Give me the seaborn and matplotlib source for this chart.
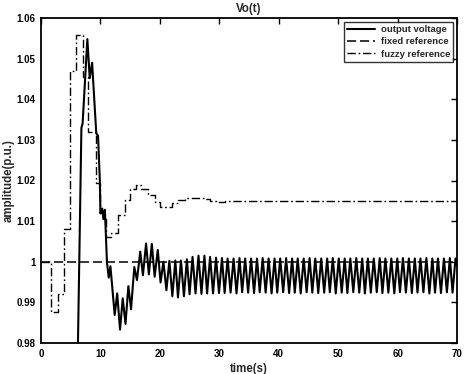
import numpy as np
import pandas as pd
import matplotlib
matplotlib.use("Agg")
import matplotlib.pyplot as plt
import seaborn as sns

# output voltage, transient part (t, value)
vo_t = [0, 6.0, 6.8, 7.0, 7.8, 8.2, 8.6, 9.3, 9.6, 9.9, 10.0, 10.3, 10.5, 10.75,
        11.1, 11.4, 11.68, 12.4, 12.82, 13.3, 13.75, 14.22, 14.7, 15.15, 15.7, 16.15,
        16.7, 17.15, 17.68, 18.15, 18.65, 19.12, 19.65, 20.12]
vo_v = [0.90, 0.96, 1.033, 1.034, 1.0548, 1.0452, 1.049, 1.0316, 1.031, 1.020,
        1.0119, 1.0131, 1.0105, 1.0128, 0.9998, 0.9961, 0.9989, 0.9869, 0.9922, 0.9833,
        0.9910, 0.9847, 0.9940, 0.9883, 0.9987, 0.9955, 1.0025, 0.9967, 1.0045, 0.9969,
        1.0044, 0.9963, 1.0029, 0.9949]

# output voltage, steady oscillation: peaks and troughs
peak_t = [20.6, 21.6, 22.6, 23.55, 24.55, 25.5, 26.5, 27.5, 28.45, 29.45, 30.45, 31.4,
          32.4, 33.4, 34.35, 35.35, 36.35, 37.3, 38.3, 39.3, 40.25, 41.25, 42.25, 43.2,
          44.2, 45.2, 46.15, 47.15, 48.15, 49.1, 50.1, 51.1, 52.05, 53.05, 54.05, 55.0,
          56.0, 57.0, 57.95, 58.95, 59.95, 60.9, 61.9, 62.9, 63.85, 64.85, 65.85, 66.8,
          67.8, 68.8, 69.75]
peak_v = [1.0000, 1.0002, 1.0003, 1.0003, 1.0006, 1.0012, 1.0015, 1.0015, 1.0012, 1.0010,
          1.0009, 1.0008, 1.0008, 1.0009, 1.0008, 1.0008, 1.0008, 1.0009, 1.0008, 1.0008,
          1.0008, 1.0009, 1.0008, 1.0008, 1.0008, 1.0009, 1.0008, 1.0008, 1.0008, 1.0009,
          1.0008, 1.0008, 1.0008, 1.0009, 1.0008, 1.0008, 1.0008, 1.0009, 1.0008, 1.0008,
          1.0008, 1.0009, 1.0008, 1.0008, 1.0008, 1.0009, 1.0008, 1.0008, 1.0008, 1.0009,
          1.0008]
trough_t = [21.1, 22.1, 23.05, 24.05, 25.0, 26.0, 27.0, 27.95, 28.95, 29.95, 30.9, 31.9,
            32.9, 33.85, 34.85, 35.85, 36.8, 37.8, 38.8, 39.75, 40.75, 41.75, 42.7, 43.7,
            44.7, 45.65, 46.65, 47.65, 48.6, 49.6, 50.6, 51.55, 52.55, 53.55, 54.5, 55.5,
            56.5, 57.45, 58.45, 59.45, 60.4, 61.4, 62.4, 63.35, 64.35, 65.35, 66.3, 67.3,
            68.3, 69.25, 70.0]
trough_v = [0.9930, 0.9915, 0.9912, 0.9915, 0.9920, 0.9922, 0.9921, 0.9922, 0.9922, 0.9923,
            0.9923, 0.9924, 0.9922, 0.9925, 0.9924, 0.9923, 0.9925, 0.9924, 0.9922, 0.9924,
            0.9925, 0.9923, 0.9924, 0.9922, 0.9925, 0.9924, 0.9923, 0.9924, 0.9925, 0.9922,
            0.9924, 0.9923, 0.9925, 0.9924, 0.9922, 0.9924, 0.9925, 0.9923, 0.9924, 0.9922,
            0.9925, 0.9924, 0.9923, 0.9924, 0.9925, 0.9922, 0.9924, 0.9923, 0.9925, 0.9924,
            0.9990]

# fuzzy reference (step changes)
fz_t = [0, 1.7, 2.8, 3.95, 4.92, 5.9, 7.0, 7.9, 9.3, 9.9, 10.35, 11.0, 11.84, 12.95,
        14.08, 14.92, 16.05, 16.9, 18.0, 19.1, 20.0, 22.0, 23.1, 24.2, 25.3, 27.5, 28.5,
        29.5, 31.0, 70.0]
fz_v = [1.0, 0.9877, 0.992, 1.008, 1.047, 1.0558, 1.0455, 1.032, 1.0195, 1.0119, 1.0105,
        1.0062, 1.0071, 1.0115, 1.0152, 1.018, 1.0189, 1.018, 1.0164, 1.0148, 1.0135,
        1.0144, 1.0152, 1.0156, 1.0158, 1.0155, 1.0150, 1.0148, 1.015, 1.015]

# fixed reference
fx_t = [0, 70]
fx_v = [1.0, 1.0]

yticks = [0.98, 0.99, 1.0, 1.01, 1.02, 1.03, 1.04, 1.05, 1.06]
xticks = [0, 10, 20, 30, 40, 50, 60, 70]

vo = pd.DataFrame({"t": vo_t + peak_t + trough_t, "v": vo_v + peak_v + trough_v})
vo = vo.sort_values("t")

sns.set_theme(style="white")
plt.rcParams["font.family"] = ["Liberation Sans", "DejaVu Sans"]
plt.rcParams["font.weight"] = "bold"

fig = plt.figure(figsize=(4.67, 3.74), dpi=100)
ax = fig.add_axes([41 / 467, 1 - 343 / 374, 416 / 467, 325 / 374])

sns.lineplot(data=vo, x="t", y="v", ax=ax, color="black", lw=1.5,
             estimator=None, sort=False, label="output voltage")
sns.lineplot(x=fx_t, y=fx_v, ax=ax, color="black", lw=1.1, dashes=False,
             linestyle=(0, (6, 2.5)), estimator=None, label="fixed reference")
sns.lineplot(x=fz_t, y=fz_v, ax=ax, color="black", lw=1.0, drawstyle="steps-post",
             linestyle=(0, (6, 2, 1.2, 2)), estimator=None, sort=False,
             label="fuzzy reference")

ax.set_xlim(0, 70)
ax.set_ylim(0.98, 1.06)
ax.set_xticks(xticks)
ax.set_yticks(yticks)
ax.set_yticklabels([f"{v:g}" for v in yticks])
ax.tick_params(direction="in", top=True, right=True, length=4, width=1,
               labelsize=7, pad=4, colors="black")
for lab in ax.get_xticklabels() + ax.get_yticklabels():
    lab.set_fontweight("bold")
for s in ax.spines.values():
    s.set_visible(True)
    s.set_color("black")
    s.set_linewidth(1.3)

ax.set_title("Vo(t)", fontsize=8.3, fontweight="bold", pad=4)
ax.set_xlabel("time(s)", fontsize=8.3, fontweight="bold", labelpad=3)
ax.set_ylabel("amplitude(p.u.)", fontsize=8.3, fontweight="bold", labelpad=1)

leg = ax.legend(loc="upper right", fontsize=6.8, frameon=True, fancybox=False,
                handlelength=2.9, borderaxespad=0.4, borderpad=0.35,
                labelspacing=0.35, handletextpad=0.6)
leg.get_frame().set_edgecolor("black")
leg.get_frame().set_linewidth(1.0)
for txt in leg.get_texts():
    txt.set_fontweight("bold")

fig.savefig("out.png", dpi=100)
